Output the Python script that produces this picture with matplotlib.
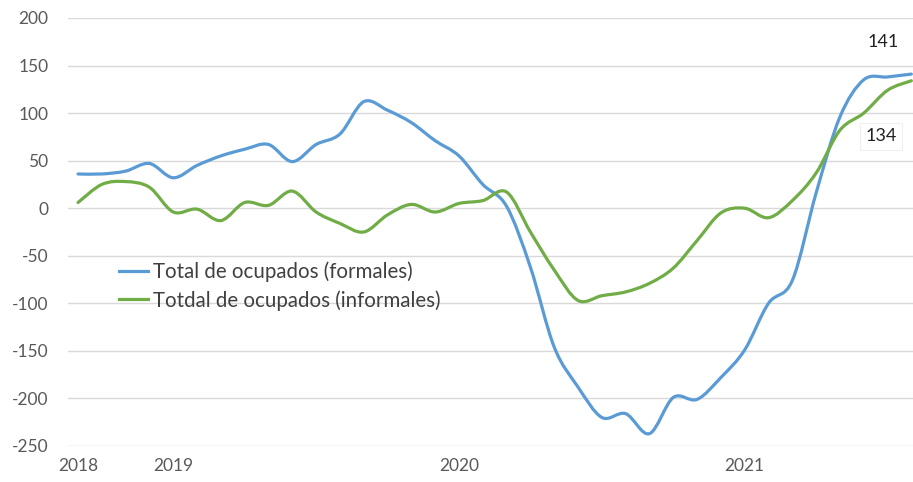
import numpy as np
import matplotlib
matplotlib.use('Agg')
import matplotlib.pyplot as plt
from matplotlib.path import Path
from matplotlib.patches import PathPatch
from matplotlib.lines import Line2D

# monthly, Sep 2018 .. Aug 2021
months = list(range(36))
year_ticks = [0, 4, 16, 28]
year_labels = ['2018', '2019', '2020', '2021']

formales = [36, 36, 39, 47, 32, 45, 55, 62, 67, 49, 67, 78,
            112, 103, 90, 71, 55, 25, 2, -62, -146, -188, -220, -216,
            -237, -199, -201, -178, -149, -100, -76, 16, 96, 135, 138, 141]
informales = [6, 25, 28, 22, -4, -1, -13, 6, 3, 18, -4, -16,
              -25, -7, 4, -4, 5, 8, 17, -25, -65, -97, -92, -88,
              -79, -63, -34, -5, 0, -10, 8, 37, 82, 100, 124, 134]

names = ['Total de ocupados (formales)', 'Totdal de ocupados (informales)']
colors = ['#5b9bd5', '#70ad47']

plt.rcParams['font.family'] = ['Lato', 'DejaVu Sans']
plt.rcParams['axes.unicode_minus'] = False


def smooth_path(x, y):
    # Catmull-Rom style bezier through the points, like Excel's smoothed line
    pts = np.column_stack([x, y]).astype(float)
    n = len(pts)
    verts = [pts[0]]
    codes = [Path.MOVETO]
    for i in range(n - 1):
        p0 = pts[i - 1] if i > 0 else pts[i]
        p1, p2 = pts[i], pts[i + 1]
        p3 = pts[i + 2] if i + 2 < n else pts[i + 1]
        verts += [p1 + (p2 - p0) / 6, p2 - (p3 - p1) / 6, p2]
        codes += [Path.CURVE4] * 3
    return Path(verts, codes)


fig = plt.figure(figsize=(9.13, 4.82), dpi=100)
ax = fig.add_axes([0.0745, 0.0747, 0.925, 0.888])

for series, c in zip([formales, informales], colors):
    ax.add_patch(PathPatch(smooth_path(months, series), facecolor='none',
                           edgecolor=c, lw=2.3, capstyle='round', zorder=3))

ax.set_xlim(-0.42, 35.05)
ax.set_ylim(-250, 200)
ax.set_yticks(range(-250, 201, 50))
ax.yaxis.grid(True, color='#d9d9d9', lw=1)
ax.set_axisbelow(True)
for s in ax.spines.values():
    s.set_visible(False)
ax.set_xticks(year_ticks)
ax.set_xticklabels(year_labels)
ax.tick_params(length=0, labelsize=12.5, colors='#595959')
ax.tick_params(axis='y', pad=14)
ax.tick_params(axis='x', pad=9)

handles = [Line2D([], [], color=c, lw=2.3) for c in colors]
ax.legend(handles, names, loc='upper left', bbox_to_anchor=(0.038, 0.475),
          frameon=False, fontsize=14.8, handlelength=1.45, handletextpad=0.2,
          labelspacing=0.4, labelcolor='#404040')

ax.annotate(f'{formales[-1]}', xy=(months[-1], formales[-1]), xytext=(-20, 23),
            textcoords='offset points', ha='center', va='center', fontsize=13,
            color='#222222')
ax.annotate(f'{informales[-1]}', xy=(months[-1], informales[-1]), xytext=(-22, -40),
            textcoords='offset points', ha='center', va='center', fontsize=13,
            color='#222222',
            bbox=dict(boxstyle='square,pad=0.3', fc='white', ec='#f0f0f0', lw=0.8))

fig.savefig('out.png', dpi=100)
